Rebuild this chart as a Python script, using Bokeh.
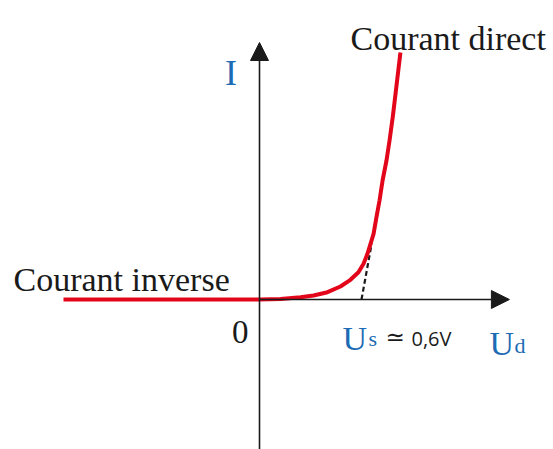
from bokeh.plotting import figure
from bokeh.models import Range1d, Arrow, NormalHead, Label
from bokeh.embed import file_html
from bokeh.resources import INLINE

# Diode characteristic (U in V, I in arbitrary units)
u_curve = [-1.153, 0.0, 0.124, 0.241, 0.318, 0.400, 0.476, 0.535, 0.582, 0.612, 0.635,
           0.653, 0.671, 0.688, 0.706, 0.724, 0.747, 0.765, 0.785, 0.806, 0.829]
i_curve = [0.0, 0.0, 0.1, 0.46, 0.8, 1.46, 2.6, 3.94, 5.46, 7.14, 9.14,
           11.14, 13.14, 16.46, 19.8, 23.8, 27.8, 31.8, 36.8, 42.8, 49.4]
# Tangent giving the threshold voltage
u_tangent = [0.6, 0.66]
i_tangent = [0.0, 11.2]

RED = "#e3061b"
BLUE = "#1c6bb4"
DARK = "#1a1a1a"
SERIF = "Liberation Serif"

p = figure(width=553, height=449, output_backend="svg", toolbar_location=None,
           x_range=Range1d(-259 / 170, 294 / 170), y_range=Range1d(-150 / 5, 299 / 5),
           x_axis_location=None, y_axis_location=None, min_border=0)
p.xgrid.visible = False
p.ygrid.visible = False
p.outline_line_color = None
p.background_fill_color = "white"

# axes with arrows
p.add_layout(Arrow(x_start=0, y_start=0, x_end=1.47, y_end=0, line_color=DARK, line_width=1.6,
                   end=NormalHead(size=18, fill_color=DARK, line_color=DARK, line_width=1)))
p.add_layout(Arrow(x_start=0, y_start=-30, x_end=0, y_end=51.4, line_color=DARK, line_width=1.6,
                   end=NormalHead(size=18, fill_color=DARK, line_color=DARK, line_width=1)))

# tangent
p.line(u_tangent, i_tangent, line_color=DARK, line_width=2.2, line_dash="5 3")
# curve
p.line(u_curve, i_curve, line_color=RED, line_width=4, line_join="round")

def lab(x, y, t, size, color=DARK, font=SERIF, align="left"):
    p.add_layout(Label(x=x, y=y, text=t, text_font=font, text_font_size=f"{size}px",
                       text_color=color, text_align=align, text_baseline="alphabetic"))

lab(0.535, 52.2, "Courant direct", 34)
lab(-1.447, 4.0, "Courant inverse", 34)
lab(-0.065, -6.4, "0", 33, align="right")
lab(-0.168, 45.4, "I", 36, BLUE, align="center")
lab(0.488, -7.8, "U", 34, BLUE)
lab(0.641, -7.8, "s", 22, BLUE)
lab(0.741, -7.4, "\u2243", 23, font="DejaVu Sans")
lab(0.894, -7.8, "0,6V", 20, font="Open Sans")
lab(1.353, -8.8, "U", 34, BLUE)
lab(1.5, -9.2, "d", 22, BLUE)

open("out.html", "w").write(file_html(p, INLINE))
